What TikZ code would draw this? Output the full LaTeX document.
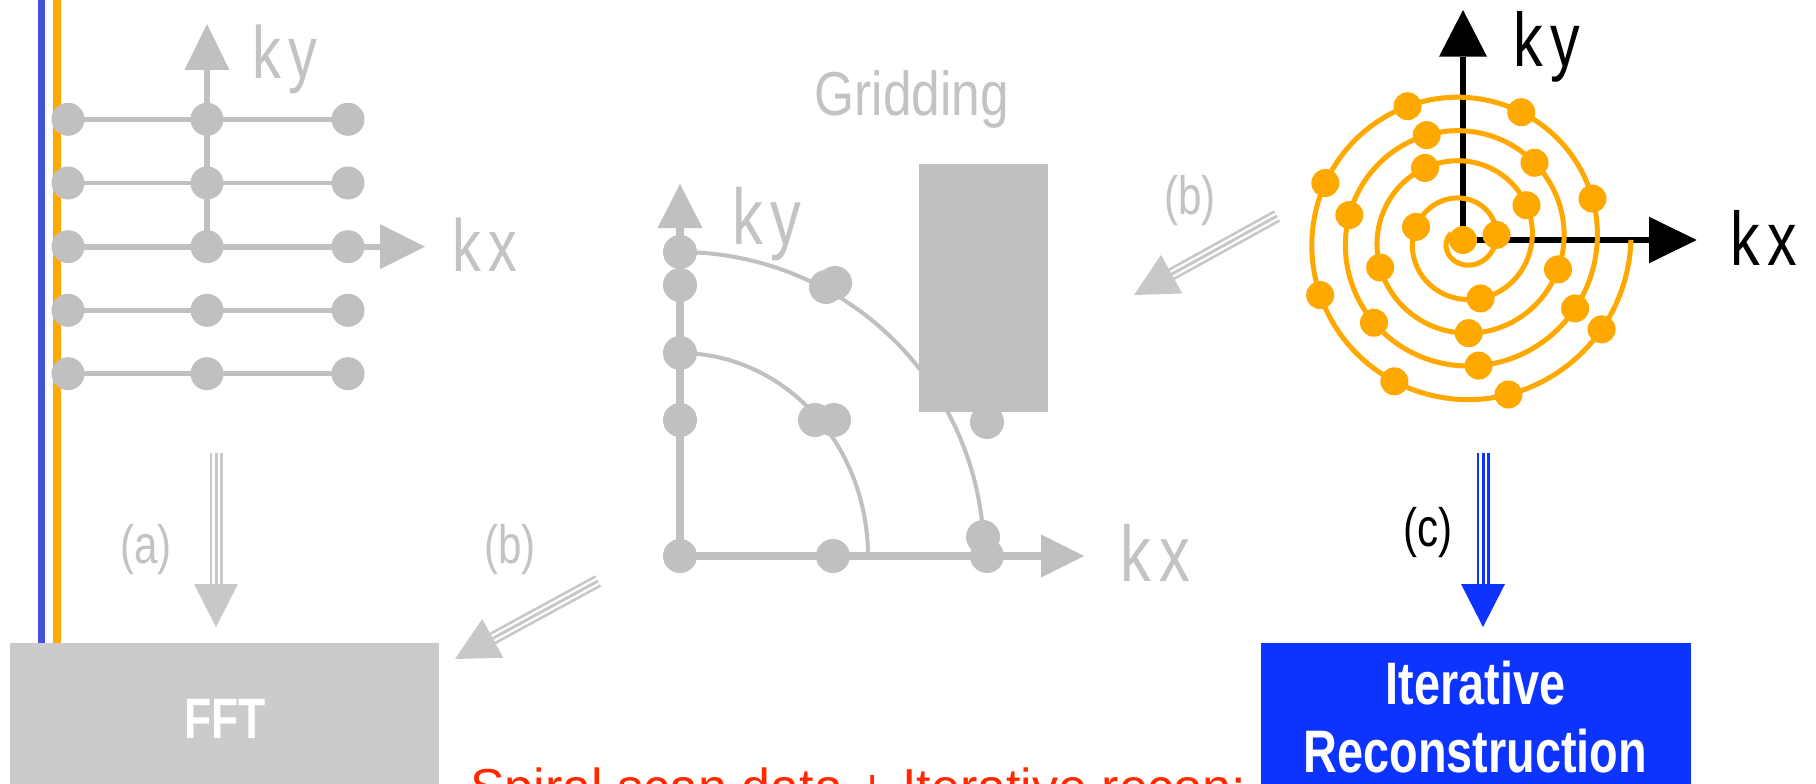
\documentclass[tikz,border=0pt]{standalone}
\usepackage{fontspec}
\setmainfont{Liberation Sans}
\newfontfamily\narrowsans[FakeStretch=0.78]{Liberation Sans}
\newfontfamily\titlesans[FakeStretch=0.83]{Liberation Sans}
\usetikzlibrary{calc}

\definecolor{gridgray}{RGB}{192,192,192}
\definecolor{boxgray}{RGB}{203,203,203}
\definecolor{rectgray}{RGB}{191,191,191}
\definecolor{arrowgray}{RGB}{200,200,200}
\definecolor{labelgray}{RGB}{195,195,195}
\definecolor{spiralorange}{RGB}{255,168,0}
\definecolor{railblue}{RGB}{70,80,216}
\definecolor{railorange}{RGB}{255,170,0}
\definecolor{reconblue}{RGB}{13,51,255}
\definecolor{captionred}{RGB}{255,40,0}

% axis with a filled triangular head: colour, width, start, tip, head length, head half-width
\newcommand{\axisline}[6]{%
  \coordinate (axbase) at ($(#4)!#5!(#3)$);
  \draw[#1, line width=#2] (#3) -- (axbase);
  \fill[#1] (#4) -- ($(axbase)!#6!90:(#4)$) -- ($(axbase)!#6!-90:(#4)$) -- cycle;
}
% three-stroke flow arrow: colour, start, tip
\newcommand{\tripleflow}[3]{%
  \coordinate (tfbase) at ($(#3)!43pt!(#2)$);
  \draw[#1, line width=13pt] (#2) -- (tfbase);
  \draw[white, line width=7.5pt] (#2) -- (tfbase);
  \draw[#1, line width=3pt] (#2) -- (tfbase);
  \fill[#1] (#3) -- ($(tfbase)!22pt!90:(#3)$) -- ($(tfbase)!22pt!-90:(#3)$) -- cycle;
}

\begin{document}
\begin{tikzpicture}[x=1pt, y=-1pt,
  declare function={spr(\t)=16+0.0938*(\t-180)+4/(1+((\t-810)/110)^2);},
  leftdot/.style={circle, fill=gridgray, inner sep=0pt, minimum size=33pt},
  middot/.style={circle, fill=gridgray, inner sep=0pt, minimum size=34pt},
  odot/.style={circle, fill=spiralorange, inner sep=0pt, minimum size=28pt},
  gridline/.style={gridgray, line width=4.5pt},
  axlabel/.style={anchor=base, inner sep=0pt},
  flowlabel/.style={anchor=base, inner sep=0pt, font=\narrowsans\fontsize{54}{54}\selectfont},
  boxtext/.style={anchor=base, inner sep=0pt, text=white, font=\narrowsans\bfseries\fontsize{#1}{#1}\selectfont},
]
\useasboundingbox (0,0) rectangle (1816,784);
\fill[white] (0,0) rectangle (1816,784);
\clip (0,0) rectangle (1816,784);

% ---------- Cartesian sampling ----------
\coordinate (blueTop) at (41.7,-5);   \coordinate (blueEnd) at (41.7,643);
\coordinate (orangeTop) at (57,-5);   \coordinate (orangeEnd) at (57,643);
\draw[railblue, line width=7.5pt] (blueTop) -- (blueEnd);
\draw[railorange, line width=7.5pt] (orangeTop) -- (orangeEnd);

\foreach \r/\y in {1/119.3,2/183,3/246.7,4/310.3,5/373.7}
  \foreach \c/\x in {1/68,2/207,3/348}
    \coordinate (L\r\c) at (\x,\y);
\foreach \r in {1,2,4,5} \draw[gridline] (L\r1) -- (L\r3);
\coordinate (Lkxtip) at (425,246.7);
\coordinate (Lkytip) at (207,24);
\axisline{gridgray}{6pt}{L31}{Lkxtip}{45pt}{22.5pt}
\axisline{gridgray}{5.4pt}{L32}{Lkytip}{46pt}{22.5pt}
\foreach \r in {1,...,5}
  \foreach \c in {1,2,3}
    \node[leftdot] (dL\r\c) at (L\r\c) {};
\node[axlabel, text=labelgray, font=\narrowsans\fontsize{74}{74}\selectfont] (lky) at (285,79) {k\hspace{0.1em}y};
\node[axlabel, text=labelgray, font=\narrowsans\fontsize{74}{74}\selectfont] (lkx) at (485,271) {k\hspace{0.1em}x};

% ---------- Gridding ----------
\node[axlabel, text=labelgray, font=\titlesans\fontsize{62}{62}\selectfont] (gridding) at (911.7,115) {Gridding};
\coordinate (Mo) at (680,556);
\coordinate (Mkytip) at (680,184);
\coordinate (Mkxtip) at (1084,556);
\axisline{gridgray}{8.3pt}{Mo}{Mkytip}{44pt}{22.5pt}
\axisline{gridgray}{8.3pt}{Mo}{Mkxtip}{43pt}{21.5pt}
\draw[gridgray, line width=4pt] plot[domain=90:4, samples=70, variable=\t]
  ({680+304*cos(\t)},{556-304*sin(\t)});
\draw[gridgray, line width=4pt] plot[domain=90:0, samples=60, variable=\t]
  ({680+188*cos(\t)},{556-203*sin(\t)});
\foreach \n/\p in {a/{680,252}, b/{680,285}, c/{680,353}, d/{680,420}, e/{680,556},
                   f/{833,556}, g/{987,556}, h/{983,537}, i/{987,422},
                   j/{826,287}, k/{835,283}, l/{815,420}, m/{834,420}}
  \node[middot] (dM\n) at (\p) {};
\node[fill=rectgray, inner sep=0pt, anchor=north west, minimum width=129pt, minimum height=248pt] (blank) at (919,164) {};
\node[axlabel, text=labelgray, font=\narrowsans\fontsize{79}{79}\selectfont] (mky) at (766.8,244) {k\hspace{0.1em}y};
\node[axlabel, text=labelgray, font=\narrowsans\fontsize{79}{79}\selectfont] (mkx) at (1155.3,581) {k\hspace{0.1em}x};

% ---------- Spiral sampling ----------
\coordinate (Ro) at (1463,240);
\coordinate (Rkytip) at (1463,10);
\coordinate (Rkxtip) at (1696.7,240);
\axisline{black}{6pt}{Ro}{Rkytip}{46.7pt}{24pt}
\axisline{black}{6pt}{Ro}{Rkxtip}{47.7pt}{23.3pt}
\draw[spiralorange, line width=5pt, line join=round] plot[domain=150:1800, samples=700, variable=\t]
  ({1463+spr(\t)*cos(\t)},{240-spr(\t)*sin(\t)});
\node[odot] (sp0) at (Ro) {};
\foreach \a [count=\i] in {368.6,524.4,646.7,748.7,837.8,918.4,993.5,1062.8,1127.2,1189.1,
                           1247.6,1302.9,1357.1,1408.6,1457.7,1505.5,1552.5,1597.5,1641.1,
                           1684.1,1726.4,1767.2}
  \node[odot] (sp\i) at ({1463+spr(\a)*cos(\a)},{240-spr(\a)*sin(\a)}) {};
\node[axlabel, text=black, font=\narrowsans\fontsize{76}{76}\selectfont] (rky) at (1547,66.7) {k\hspace{0.1em}y};
\node[axlabel, text=black, font=\narrowsans\fontsize{76}{76}\selectfont] (rkx) at (1764,265) {k\hspace{0.1em}x};

% ---------- flows ----------
\coordinate (aTail) at (216,453);   \coordinate (aTip) at (216,627);
\coordinate (bTail) at (598,581);   \coordinate (bTip) at (455,659);
\coordinate (b2Tail) at (1277,216); \coordinate (b2Tip) at (1134,295);
\coordinate (cTail) at (1483,453);  \coordinate (cTip) at (1483,627);
\tripleflow{arrowgray}{aTail}{aTip}
\tripleflow{arrowgray}{bTail}{bTip}
\tripleflow{arrowgray}{b2Tail}{b2Tip}
\tripleflow{reconblue}{cTail}{cTip}
\node[flowlabel, text=labelgray] (la) at (146,563.5) {(a)};
\node[flowlabel, text=labelgray] (lb) at (510,563.5) {(b)};
\node[flowlabel, text=labelgray] (lb2) at (1190,214.6) {(b)};
\node[flowlabel, text=black] (lc) at (1428,546.6) {(c)};

% ---------- reconstruction boxes ----------
\node[fill=boxgray, inner sep=0pt, anchor=north west, minimum width=429pt, minimum height=160pt] (fft) at (10,642.7) {};
\node[boxtext=57] (fftlabel) at (225,738) {FFT};
\node[anchor=base west, inner sep=0pt, text=captionred, font=\fontsize{52}{52}\selectfont] (caption) at (470,805) {Spiral scan data + Iterative recon:};
\node[fill=reconblue, inner sep=0pt, anchor=north west, minimum width=430pt, minimum height=160pt] (recon) at (1260.4,642.7) {};
\node[boxtext=60] (reconl1) at (1475.5,704) {Iterative};
\node[boxtext=60] (reconl2) at (1475.5,772) {Reconstruction};
\end{tikzpicture}
\end{document}
